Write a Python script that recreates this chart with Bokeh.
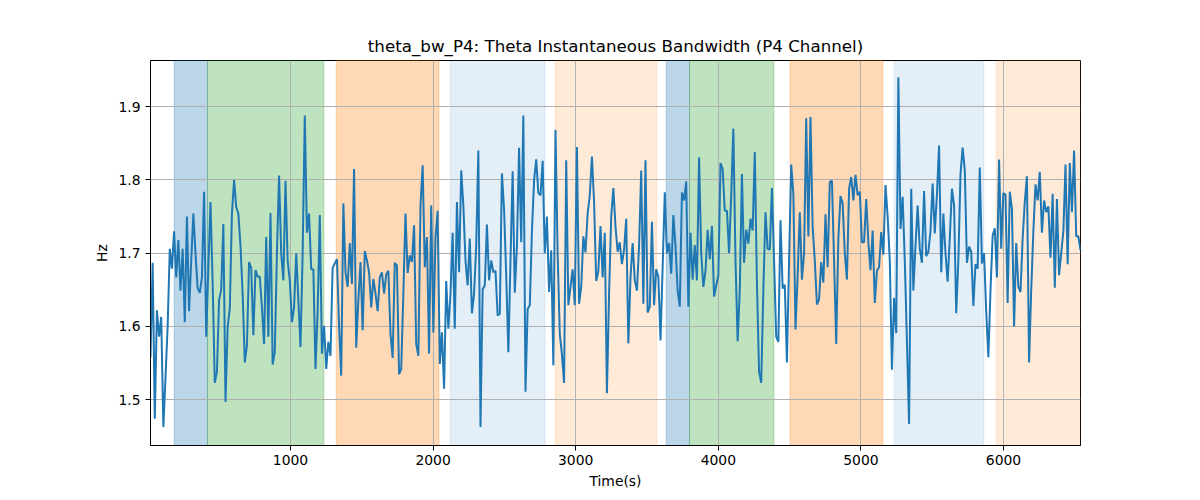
from bokeh.plotting import figure
from bokeh.models import BoxAnnotation, FixedTicker, Range1d
from bokeh.embed import file_html
from bokeh.resources import INLINE
import numpy as np

# ---- data ----
t_start, t_end = 18, 6540

bw_part1 = [1.558, 1.687, 1.474, 1.622, 1.586, 1.613, 1.463, 1.53, 1.60, 1.706,
            1.679, 1.730, 1.667, 1.718, 1.649, 1.706, 1.606, 1.750, 1.621, 1.69,
            1.754, 1.70, 1.652, 1.646, 1.667, 1.784, 1.586, 1.68, 1.770, 1.66,
            1.523, 1.538, 1.636, 1.650, 1.740, 1.497, 1.599, 1.624, 1.754, 1.800,
            1.763, 1.754, 1.71, 1.645, 1.551, 1.574, 1.688, 1.680, 1.588, 1.677,
            1.668, 1.668, 1.626, 1.576]
bw_part2 = [1.722, 1.586, 1.755, 1.548, 1.565, 1.70, 1.806, 1.70, 1.663, 1.799,
            1.690, 1.663, 1.606, 1.626, 1.700, 1.636, 1.572, 1.70, 1.888, 1.728,
            1.754, 1.678, 1.678, 1.542, 1.621, 1.752, 1.563, 1.601, 1.542, 1.579,
            1.560, 1.680, 1.686, 1.692, 1.60, 1.533, 1.768, 1.674, 1.654, 1.714,
            1.658, 1.815, 1.571, 1.636, 1.688, 1.595, 1.703, 1.690, 1.674, 1.626,
            1.665, 1.645, 1.621, 1.667]
bw_part3 = [1.674, 1.645, 1.671, 1.676, 1.590, 1.557, 1.687, 1.683, 1.535, 1.542,
            1.645, 1.754, 1.673, 1.697, 1.688, 1.738, 1.576, 1.560, 1.765, 1.820,
            1.681, 1.722, 1.563, 1.765, 1.592, 1.722, 1.758, 1.549, 1.592, 1.515,
            1.662, 1.597, 1.645, 1.728, 1.597, 1.770, 1.674, 1.813, 1.765, 1.690,
            1.656, 1.720, 1.618, 1.645, 1.710, 1.840, 1.463, 1.651, 1.656, 1.739,
            1.663, 1.690, 1.674, 1.676, 1.615]
bw_part4 = [1.617, 1.809, 1.760, 1.670, 1.565, 1.690, 1.812, 1.646, 1.710, 1.844,
            1.715, 1.888, 1.511, 1.624, 1.629, 1.730, 1.799, 1.828, 1.782, 1.779,
            1.826, 1.700, 1.750, 1.647, 1.704, 1.547, 1.868, 1.700, 1.590, 1.562,
            1.523, 1.827, 1.629, 1.654, 1.678, 1.629, 1.845, 1.631, 1.654, 1.723,
            1.701, 1.754, 1.779, 1.832, 1.770, 1.662, 1.676, 1.737, 1.667, 1.728,
            1.509, 1.645, 1.750, 1.789]
bw_part5 = [1.736, 1.702, 1.715, 1.685, 1.705, 1.747, 1.577, 1.667, 1.714, 1.663,
            1.649, 1.710, 1.813, 1.631, 1.827, 1.619, 1.627, 1.743, 1.629, 1.678,
            1.668, 1.581, 1.681, 1.783, 1.700, 1.714, 1.672, 1.752, 1.710, 1.649,
            1.627, 1.783, 1.772, 1.798, 1.627, 1.728, 1.664, 1.711, 1.663, 1.831,
            1.700, 1.654, 1.676, 1.732, 1.692, 1.737, 1.641, 1.656, 1.670, 1.823,
            1.815, 1.758, 1.758, 1.700]
bw_part6 = [1.780, 1.870, 1.690, 1.580, 1.650, 1.808, 1.687, 1.732, 1.713, 1.747,
            1.731, 1.838, 1.660, 1.538, 1.523, 1.650, 1.756, 1.706, 1.705, 1.789,
            1.690, 1.586, 1.579, 1.745, 1.652, 1.657, 1.551, 1.690, 1.821, 1.781,
            1.596, 1.670, 1.756, 1.664, 1.700, 1.884, 1.723, 1.886, 1.736, 1.690,
            1.630, 1.637, 1.688, 1.660, 1.753, 1.681, 1.797, 1.799, 1.690, 1.576,
            1.720, 1.778, 1.768, 1.700]
bw_part7 = [1.664, 1.788, 1.804, 1.772, 1.807, 1.779, 1.784, 1.715, 1.715, 1.774,
            1.715, 1.677, 1.731, 1.632, 1.676, 1.681, 1.729, 1.698, 1.793, 1.750,
            1.690, 1.541, 1.639, 1.591, 1.940, 1.733, 1.777, 1.690, 1.580, 1.467,
            1.788, 1.649, 1.710, 1.765, 1.706, 1.687, 1.785, 1.696, 1.702, 1.730,
            1.795, 1.727, 1.780, 1.847, 1.674, 1.754, 1.700, 1.661, 1.720, 1.788,
            1.765, 1.618, 1.690, 1.808]
bw_part8 = [1.844, 1.813, 1.687, 1.709, 1.702, 1.628, 1.685, 1.679, 1.817, 1.686,
            1.700, 1.620, 1.558, 1.650, 1.724, 1.734, 1.667, 1.828, 1.706, 1.782,
            1.780, 1.632, 1.784, 1.761, 1.600, 1.714, 1.654, 1.647, 1.720, 1.770,
            1.805, 1.551, 1.650, 1.730, 1.794, 1.772, 1.811, 1.728, 1.772, 1.756,
            1.764, 1.694, 1.781, 1.653, 1.774, 1.670, 1.700, 1.730, 1.821, 1.685,
            1.823, 1.756, 1.840, 1.723, 1.723, 1.704]

bandwidth = (bw_part1 + bw_part2 + bw_part3 + bw_part4 +
             bw_part5 + bw_part6 + bw_part7 + bw_part8)
time_s = np.linspace(t_start, t_end, len(bandwidth))

span_starts = [184, 418, 1320, 2120, 2855, 3635, 3798, 4503, 5234, 5949]
span_ends = [418, 1234, 2041, 2784, 3569, 3798, 4390, 5154, 5862, 6540]
span_colors = ["#1f77b4", "#2ca02c", "#ff7f0e", "#1f77b4", "#ff7f0e",
               "#1f77b4", "#2ca02c", "#ff7f0e", "#1f77b4", "#ff7f0e"]
span_alphas = [0.3, 0.3, 0.3, 0.12, 0.16, 0.3, 0.3, 0.3, 0.12, 0.16]

x_ticks = [1000, 2000, 3000, 4000, 5000, 6000]
y_ticks = [1.5, 1.6, 1.7, 1.8, 1.9]
y_min, y_max = 1.4376, 1.963

FONT = "DejaVu Sans"

p = figure(width=1184, height=492, frame_width=930, frame_height=385,
           min_border_left=150, min_border_right=104,
           min_border_top=60, min_border_bottom=47,
           x_range=Range1d(t_start, t_end), y_range=Range1d(y_min, y_max),
           output_backend="svg", toolbar_location=None,
           title="theta_bw_P4: Theta Instantaneous Bandwidth (P4 Channel)")

p.background_fill_color = "white"
p.border_fill_color = "white"
p.outline_line_color = "black"
p.outline_line_width = 1

p.title.align = "center"
p.title.text_font = FONT
p.title.text_font_size = "16.7px"
p.title.text_font_style = "normal"
p.title.text_color = "black"

for ax in (p.xaxis[0], p.yaxis[0]):
    ax.axis_label_text_font = FONT
    ax.axis_label_text_font_size = "13.9px"
    ax.axis_label_text_font_style = "normal"
    ax.axis_label_text_color = "black"
    ax.major_label_text_font = FONT
    ax.major_label_text_font_size = "13.9px"
    ax.major_label_text_color = "black"
    ax.major_tick_out = 5
    ax.major_tick_in = 0
    ax.minor_tick_out = 0
    ax.minor_tick_in = 0
    ax.axis_line_color = "black"
    ax.major_tick_line_color = "black"

p.xaxis.axis_label = "Time(s)"
p.yaxis.axis_label = "Hz"
p.xaxis.ticker = FixedTicker(ticks=x_ticks)
p.yaxis.ticker = FixedTicker(ticks=y_ticks)
p.xaxis.major_label_standoff = 4
p.yaxis.major_label_standoff = 5

p.xgrid.ticker = FixedTicker(ticks=x_ticks)
p.ygrid.ticker = FixedTicker(ticks=y_ticks)
for g in (p.xgrid[0], p.ygrid[0]):
    g.grid_line_color = "#b0b0b0"
    g.grid_line_width = 1

# spans drawn beneath the grid (as in the reference)
for s, e, c, a in zip(span_starts, span_ends, span_colors, span_alphas):
    p.add_layout(BoxAnnotation(left=s, right=e, fill_color=c, fill_alpha=a,
                               line_color=c, line_alpha=a, line_width=1,
                               level="image"))

p.line(time_s, bandwidth, line_color="#1f77b4", line_width=2)

open("out.html", "w").write(file_html(p, INLINE))
